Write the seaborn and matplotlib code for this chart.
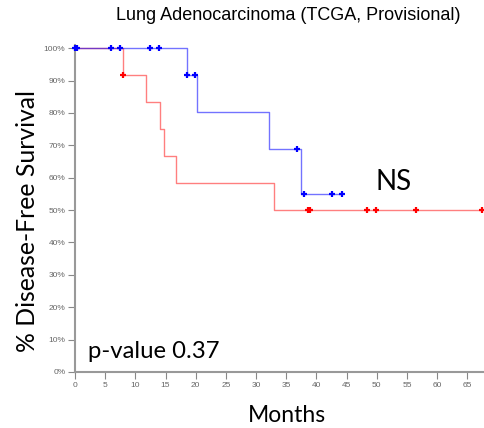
import numpy as np
import pandas as pd
import matplotlib
matplotlib.use("Agg")
import matplotlib.pyplot as plt
import seaborn as sns

# Step curves (months, survival %)
blue_t = [0, 18.6, 20.2, 32.2, 37.5, 44.2]
blue_s = [100, 91.67, 80.2, 68.75, 55.0, 55.0]
blue_cens_t = [0.0, 0.4, 6.0, 7.4, 12.4, 13.9, 18.6, 19.9, 36.8, 38.0, 42.6, 44.2]
blue_cens_s = [100, 100, 100, 100, 100, 100, 91.67, 91.67, 68.75, 55.0, 55.0, 55.0]

red_t = [0, 8.0, 11.75, 14.1, 14.7, 16.7, 32.9, 67.5]
red_s = [100, 91.67, 83.33, 75.0, 66.67, 58.33, 50.0, 50.0]
red_cens_t = [8.0, 38.6, 39.0, 48.3, 49.8, 56.5, 67.5]
red_cens_s = [91.67, 50.0, 50.0, 50.0, 50.0, 50.0, 50.0]

xticks = list(range(0, 70, 5))
yticks = list(range(0, 101, 10))
ytick_labels = [f"{v}%" for v in yticks]

sns.set_style("white")
plt.rcParams['font.family'] = ['Liberation Sans', 'DejaVu Sans']

fig = plt.figure(figsize=(4.84, 4.28), dpi=100)
ax = fig.add_axes([75/484, 1-372/428, (483-75)/484, (372-45)/428])

df_red = pd.DataFrame({"t": red_t, "s": red_s})
df_blue = pd.DataFrame({"t": blue_t, "s": blue_s})
sns.lineplot(data=df_red, x="t", y="s", drawstyle="steps-post", color="#ff0000",
             alpha=0.5, linewidth=1.0, ax=ax, estimator=None, sort=False)
sns.lineplot(data=df_blue, x="t", y="s", drawstyle="steps-post", color="#0000ff",
             alpha=0.55, linewidth=1.0, ax=ax, estimator=None, sort=False)

dfr = pd.DataFrame({"t": red_cens_t, "s": red_cens_s})
dfb = pd.DataFrame({"t": blue_cens_t, "s": blue_cens_s})
sns.scatterplot(data=dfr, x="t", y="s", marker="+", color="#ff0000", s=22,
                linewidth=1.6, ax=ax, clip_on=False, zorder=5)
sns.scatterplot(data=dfb, x="t", y="s", marker="+", color="#0000ff", s=22,
                linewidth=1.6, ax=ax, clip_on=False, zorder=6)

ax.set_xlim(0, 67.6)
ax.set_ylim(0, 101)
ax.set_xticks(xticks)
ax.set_xticklabels([str(x) for x in xticks], fontsize=6, color="#666666")
ax.set_yticks(yticks)
ax.set_yticklabels(ytick_labels, fontsize=6, color="#666666")
ax.tick_params(axis="both", direction="out", length=5, width=0.8, color="#888888", pad=2,
               left=True, bottom=True)
for sp in ["top", "right"]:
    ax.spines[sp].set_visible(False)
for sp in ["left", "bottom"]:
    ax.spines[sp].set_color("#999999")
    ax.spines[sp].set_linewidth(1.5)

ax.set_xlabel("")
ax.set_ylabel("")
fig.text(27.5/484, 1-221/428, "% Disease-Free Survival", rotation=90, fontsize=17.8,
         ha="center", va="center", color="black", family=["Lato", "DejaVu Sans"])
fig.text(287/484, 1-415/428, "Months", fontsize=16.5, ha="center", va="center",
         color="black", family=["Lato", "DejaVu Sans"])
fig.text(288/484, 1-15/428, "Lung Adenocarcinoma (TCGA, Provisional)", fontsize=13,
         ha="center", va="center", color="black")
fig.text(375/484, 1-182/428, "NS", fontsize=20, ha="left", va="center", color="black",
         family=["Lato", "DejaVu Sans"])
fig.text(88/484, 1-352/428, "p-value 0.37", fontsize=17.2, ha="left", va="center",
         color="black", family=["Lato", "DejaVu Sans"])

fig.savefig("out.png", dpi=100)
